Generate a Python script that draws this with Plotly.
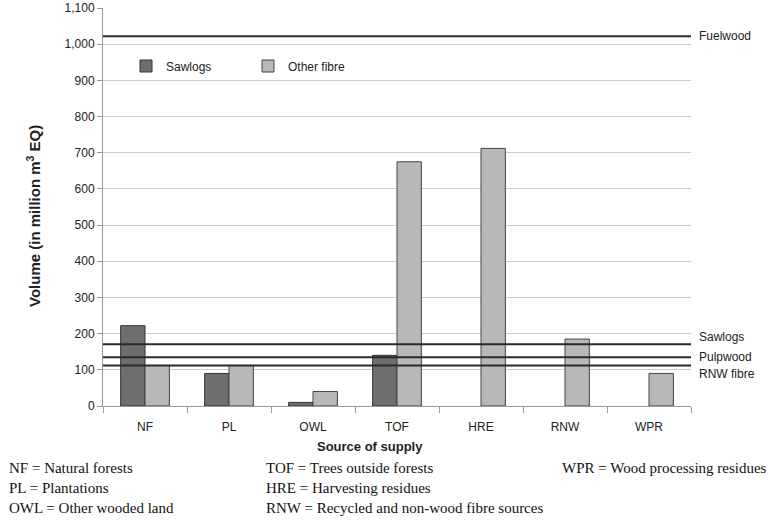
import plotly.graph_objects as go

categories = ["NF", "PL", "OWL", "TOF", "HRE", "RNW", "WPR"]
sawlogs = [222, 90, 10, 140, None, None, None]
other_fibre = [112, 112, 40, 675, 712, 185, 90]

ref_names = ["Fuelwood", "Sawlogs", "Pulpwood", "RNW fibre"]
ref_values = [1022, 171, 135, 112]
ref_label_shift = [0, 7, 0, -9]

y_ticks = list(range(0, 1101, 100))

footnotes_col1 = ["NF = Natural forests", "PL = Plantations", "OWL = Other wooded land"]
footnotes_col2 = ["TOF = Trees outside forests", "HRE = Harvesting residues",
                  "RNW = Recycled and non-wood fibre sources"]
footnotes_col3 = ["WPR = Wood processing residues"]

W, H = 779, 520
PLOT_L, PLOT_R, PLOT_T, PLOT_B = 103, 691, 8, 406   # in screenshot pixels
L = PLOT_L
R = W - PLOT_R
T = PLOT_T
B = H - PLOT_B
PW = PLOT_R - PLOT_L
PH = PLOT_B - PLOT_T


def px(x):
    return (x - PLOT_L) / PW


def py(y):
    return (PLOT_B - y) / PH


SANS = "Liberation Sans, Arial, sans-serif"
SERIF = "Liberation Serif, Times New Roman, serif"

fig = go.Figure()
fig.add_trace(go.Bar(x=categories, y=sawlogs, name="Sawlogs",
                     marker=dict(color="#6e6e6e", line=dict(color="#333333", width=1))))
fig.add_trace(go.Bar(x=categories, y=other_fibre, name="Other fibre",
                     marker=dict(color="#b8b8b8", line=dict(color="#444444", width=1))))

for name, v, sh in zip(ref_names, ref_values, ref_label_shift):
    fig.add_shape(type="line", xref="paper", yref="y", x0=0, x1=1, y0=v, y1=v,
                  line=dict(color="#2a2a2a", width=2))
    fig.add_annotation(x=1, y=v, xref="paper", yref="y", text=name, showarrow=False,
                       xanchor="left", yanchor="middle", xshift=6, yshift=sh,
                       font=dict(family=SANS, size=12, color="#222222"))

fig.add_annotation(x=px(33), y=py(216), xref="paper", yref="paper",
                   text="<b>Volume (in million m<sup>3</sup> EQ)</b>", textangle=-90,
                   showarrow=False, font=dict(family=SANS, size=15, color="#222222"),
                   xanchor="center", yanchor="middle")
fig.add_annotation(x=px(370), y=py(446), xref="paper", yref="paper",
                   text="<b>Source of supply</b>", showarrow=False,
                   font=dict(family=SANS, size=13, color="#222222"),
                   xanchor="center", yanchor="middle")

rows_y = [468, 488, 508]
for col_x, col in [(7, footnotes_col1), (264, footnotes_col2), (560, footnotes_col3)]:
    for i, t in enumerate(col):
        fig.add_annotation(x=px(col_x), y=py(rows_y[i]), xref="paper", yref="paper",
                           text=t, showarrow=False, xanchor="left", yanchor="middle",
                           font=dict(family=SERIF, size=15, color="#111111"))

fig.update_layout(
    width=W, height=H,
    margin=dict(l=L, r=R, t=T, b=B, autoexpand=False),
    paper_bgcolor="white", plot_bgcolor="white",
    barmode="group", bargap=0.42, bargroupgap=0,
    font=dict(family=SANS, size=12, color="#222222"),
    legend=dict(orientation="h", x=px(126), y=py(66), xanchor="left", yanchor="middle",
                bgcolor="rgba(0,0,0,0)", font=dict(family=SANS, size=12, color="#222222"),
                itemwidth=30, entrywidth=77, entrywidthmode="pixels"),
    xaxis=dict(showline=True, linecolor="#999999", linewidth=1, ticks="outside",
               tickson="boundaries", ticklen=6, tickcolor="#999999",
               ticklabelstandoff=10,
               tickfont=dict(family=SANS, size=12, color="#222222"),
               showgrid=False, zeroline=False),
    yaxis=dict(range=[0, 1100], tickvals=y_ticks, tickformat=",", showgrid=True,
               gridcolor="#cccccc", gridwidth=1, showline=True, linecolor="#999999",
               ticks="outside", ticklen=5, tickcolor="#999999", zeroline=False,
               ticklabeloverflow="allow",
               tickfont=dict(family=SANS, size=12, color="#222222")),
)

fig.write_html("out.html",
               config={"displayModeBar": False},
               post_script="document.body.style.margin='0';document.body.style.overflow='hidden';")
